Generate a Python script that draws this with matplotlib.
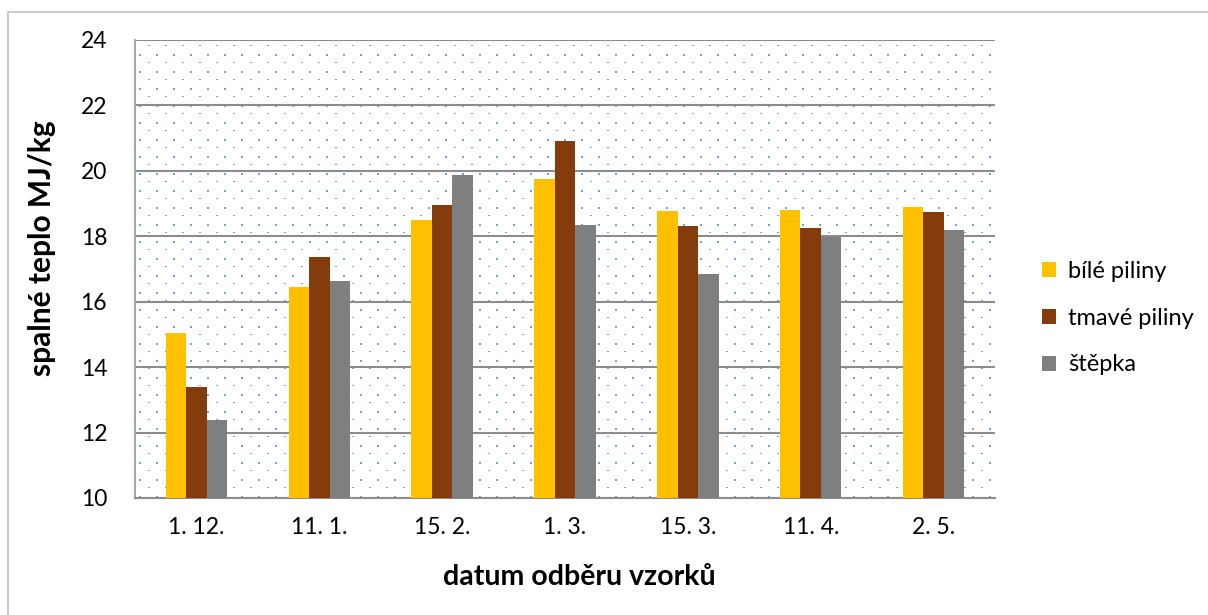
import numpy as np
import matplotlib
matplotlib.use("Agg")
import matplotlib.pyplot as plt
from matplotlib.patches import Rectangle

plt.rcParams["font.family"] = ["Lato", "DejaVu Sans"]

dates = ["1. 12.", "11. 1.", "15. 2.", "1. 3.", "15. 3.", "11. 4.", "2. 5."]
bile_piliny = [15.05, 16.45, 18.5, 19.75, 18.78, 18.8, 18.9]
tmave_piliny = [13.4, 17.38, 18.97, 20.92, 18.32, 18.25, 18.73]
stepka = [12.38, 16.62, 19.87, 18.33, 16.85, 17.97, 18.2]

series = [
    ("bílé piliny", bile_piliny, "#ffc000"),
    ("tmavé piliny", tmave_piliny, "#843c0c"),
    ("štěpka", stepka, "#7f7f7f"),
]

W, H = 1208, 615
px0, px1, py0, py1 = 135, 995, 40, 498  # plot area in pixels

fig = plt.figure(figsize=(W / 100, H / 100), dpi=100)
ax = fig.add_axes([px0 / W, 1 - py1 / H, (px1 - px0) / W, (py1 - py0) / H])
ax.set_zorder(1)
ax.patch.set_facecolor("none")

# outer chart border (only top/left visible, rest cropped)
fig.patches.append(Rectangle((8 / W, -0.1), 1.1, 1 - 12 / H + 0.1,
                             transform=fig.transFigure, fill=False,
                             edgecolor="#bfbfbf", linewidth=1.2))

# dotted plot-area texture
tex = np.zeros((py1 - py0, px1 - px0, 4))
blue = np.array([0.36, 0.61, 0.84, 0.9])
for r in range(14, tex.shape[0], 17):
    for c in range(4, tex.shape[1], 17):
        tex[r:r + 2, c:c + 2] = blue
for r in range(5, tex.shape[0], 17):
    for c in range(13, tex.shape[1], 17):
        tex[r:r + 1, c:c + 2] = blue
fig.figimage(tex, xo=px0, yo=H - py1, zorder=0)

x = np.arange(len(dates))
w = 1 / 6
for i, (name, vals, col) in enumerate(series):
    ax.bar(x + (i - 1) * w, np.array(vals) - 10, w, bottom=10, color=col,
           label=name, zorder=3)

ax.set_xlim(-0.5, len(dates) - 0.5)
ax.set_ylim(10, 24)
ax.set_yticks(range(10, 25, 2))
ax.set_xticks(x)
ax.set_xticklabels(dates)
ax.grid(axis="y", color="#8c8c8c", linewidth=1.5, zorder=1)
ax.set_axisbelow(True)
for s in ["top", "right"]:
    ax.spines[s].set_visible(False)
ax.spines["left"].set_color("#a6a6a6")
ax.spines["left"].set_linewidth(1.5)
ax.spines["bottom"].set_color("#8c8c8c")
ax.spines["bottom"].set_linewidth(1.5)
ax.tick_params(axis="both", length=0, labelsize=16.5, colors="black")
ax.tick_params(axis="y", pad=20)
ax.tick_params(axis="x", pad=14)

ax.set_ylabel("spalné teplo MJ/kg", fontsize=21.5, fontweight="bold")
ax.yaxis.set_label_coords(-0.092, 0.545)
ax.set_xlabel("datum odběru vzorků", fontsize=20.5, fontweight="bold")
ax.xaxis.set_label_coords(0.517, -0.144)

ax.legend(loc="center left", bbox_to_anchor=(1.03, 0.393), frameon=False,
          fontsize=17, handlelength=0.6, handleheight=0.6, labelspacing=1.1,
          handletextpad=0.5)

fig.savefig("out.png", dpi=100)
